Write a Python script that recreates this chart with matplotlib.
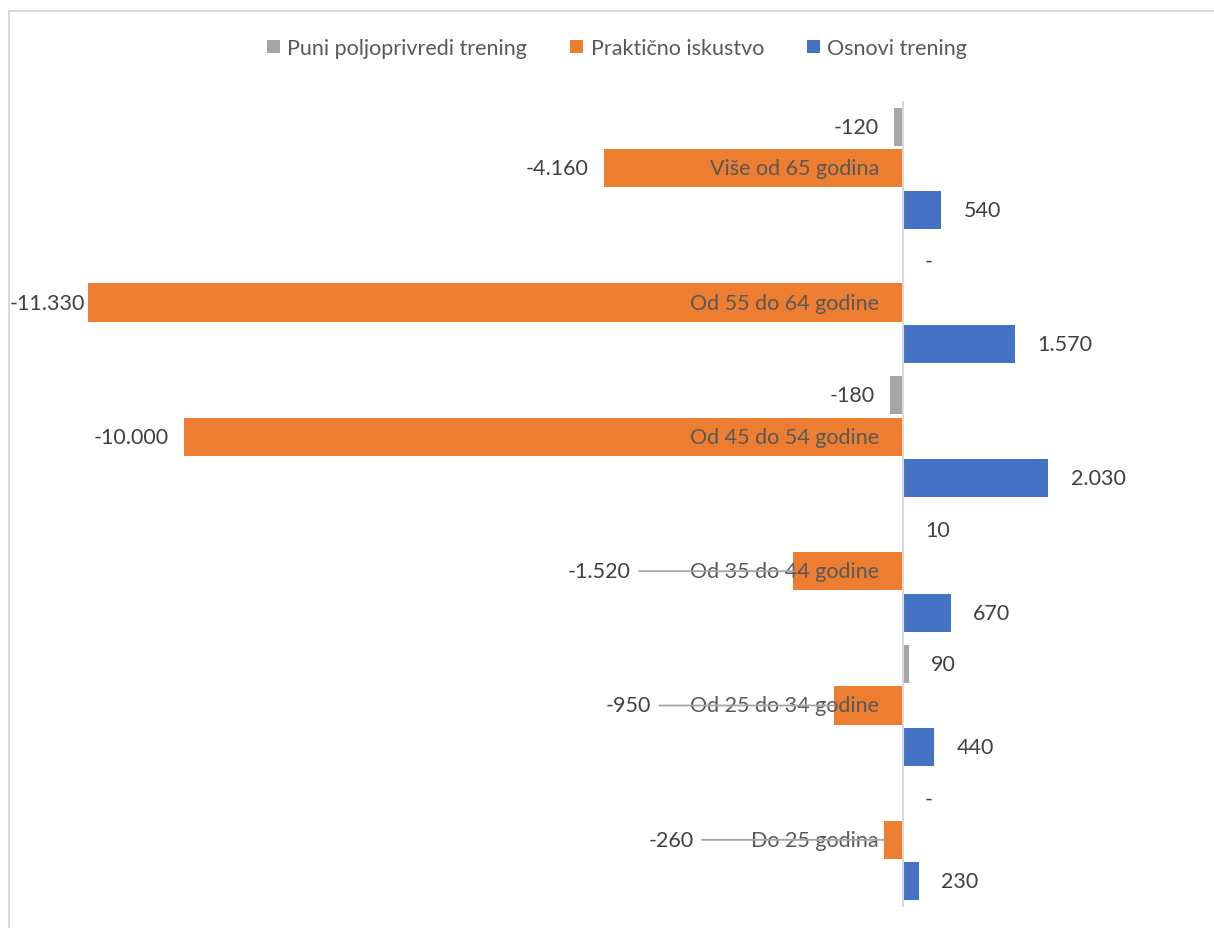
import matplotlib
matplotlib.use("Agg")
import matplotlib.pyplot as plt
from matplotlib.patches import Rectangle


# =========================================================
# DATA
# =========================================================

categories = [
    "Do 25 godina",
    "Od 25 do 34 godine",
    "Od 35 do 44 godine",
    "Od 45 do 54 godine",
    "Od 55 do 64 godine",
    "Više od 65 godina",
]

puni_trening = [0, 90, 10, -180, 0, -120]
prakticno = [-260, -950, -1520, -10000, -11330, -4160]
osnovi_trening = [230, 440, 670, 2030, 1570, 540]

series_names = [
    "Puni poljoprivredi trening",
    "Praktično iskustvo",
    "Osnovi trening",
]

# labels pushed out with leader lines (category index -> offset in points)
leader_offsets = {0: -137, 1: -132, 2: -117}
# label squeezed against the chart edge
edge_offsets = {4: -2}


# =========================================================
# STYLE
# =========================================================

plt.rcParams["font.family"] = ["Lato", "DejaVu Sans"]

GRAY = "#a5a5a5"
ORANGE = "#ed7d31"
BLUE = "#4472c4"
TEXT = "#404040"
CAT_TEXT = "#595959"
FS = 15.5


def fmt(v):
    if v == 0:
        return "-"
    s = f"{abs(v):,}".replace(",", ".")
    return "-" + s if v < 0 else s


# =========================================================
# PLOT
# =========================================================

fig = plt.figure(figsize=(12.14, 9.29), dpi=100)

# chart border
fig.patches.append(Rectangle(
    (9 / 1214, -0.1), 1.2, (929 - 12) / 929 + 0.1,
    transform=fig.transFigure, fill=False,
    edgecolor="#d9d9d9", linewidth=1.5
))

ax = fig.add_axes([40 / 1214, 21 / 929, 1150 / 1214, 806 / 929])

y = list(range(len(categories)))
h = 0.283
off = 0.309

series = [
    (puni_trening, GRAY, off),
    (prakticno, ORANGE, 0.0),
    (osnovi_trening, BLUE, -off),
]

for (vals, color, dy), name in zip(series, series_names):
    ys = [yy + dy for yy in y]
    ax.barh(ys, vals, height=h, color=color, label=name, zorder=2)

    for i, (v, yy) in enumerate(zip(vals, ys)):
        if color == ORANGE and i in leader_offsets:
            ax.annotate(
                fmt(v), xy=(v, yy), xytext=(leader_offsets[i], 0),
                textcoords="offset points", ha="right", va="center",
                fontsize=FS, color=TEXT, zorder=4,
                arrowprops=dict(arrowstyle="-", color="#a6a6a6",
                                lw=1.3, shrinkA=4, shrinkB=0),
            )
            continue
        if v < 0:
            dx = edge_offsets.get(i, -11) if color == ORANGE else -11
            ax.annotate(fmt(v), xy=(v, yy), xytext=(dx, 0),
                        textcoords="offset points", ha="right",
                        va="center", fontsize=FS, color=TEXT)
        else:
            ax.annotate(fmt(v), xy=(v, yy), xytext=(16, 0),
                        textcoords="offset points", ha="left",
                        va="center", fontsize=FS, color=TEXT)

# category labels next to the zero line
for yy, cat in zip(y, categories):
    ax.annotate(cat, xy=(0, yy), xytext=(-17, 0),
                textcoords="offset points", ha="right", va="center",
                fontsize=FS, color=CAT_TEXT, zorder=3)

ax.axvline(0, color="#d9d9d9", linewidth=1.5, zorder=3)

ax.set_xlim(-12000, 4000)
ax.set_ylim(-0.5, 5.5)
ax.axis("off")

handles, labels = ax.get_legend_handles_labels()
fig.legend(
    handles, labels, loc="center", ncol=3,
    bbox_to_anchor=(617 / 1214, 1 - 49 / 929),
    frameon=False, fontsize=FS, labelcolor=CAT_TEXT,
    handlelength=0.6, handleheight=0.6, handletextpad=0.35,
    columnspacing=2.0,
)

fig.savefig("out.png", dpi=100)
